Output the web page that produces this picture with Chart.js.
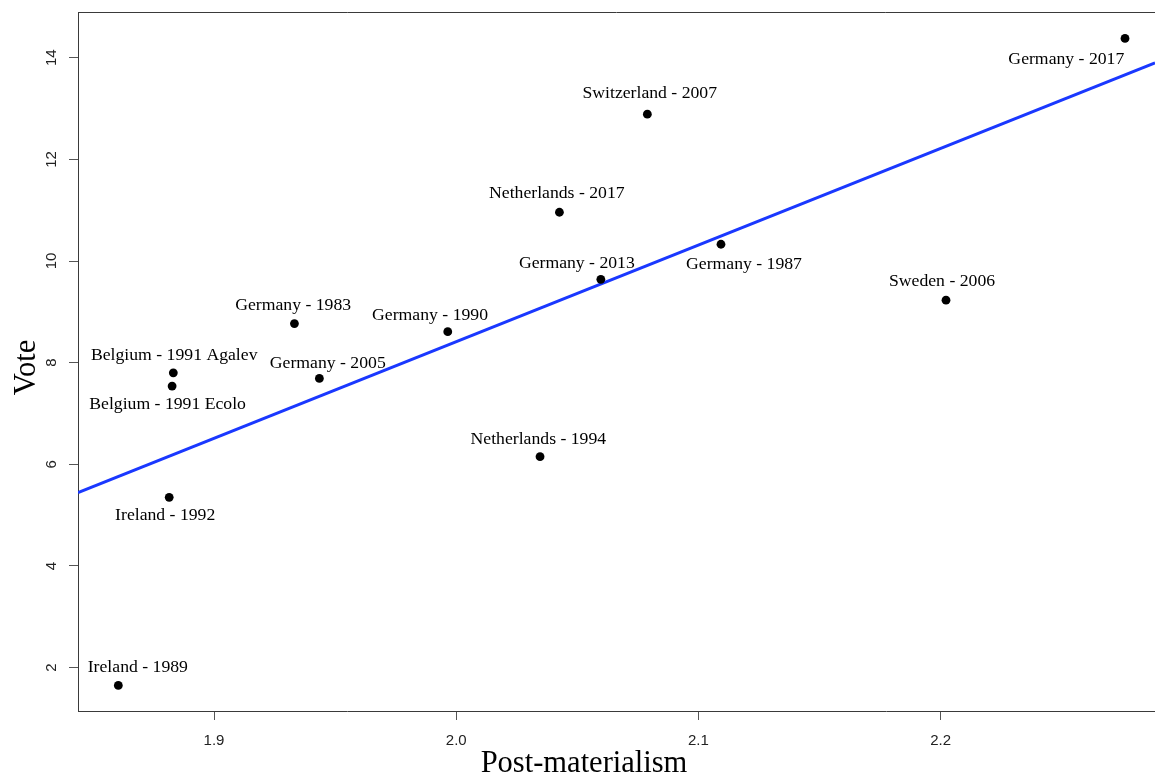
<!DOCTYPE html>
<html>
<head>
<meta charset="utf-8">
<script src="https://cdn.jsdelivr.net/npm/chart.js@4"></script>
<style>
  html, body { margin: 0; padding: 0; background: #fff; }
  canvas { display: block; }
</style>
</head>
<body>
<canvas id="voteChart" width="1155" height="776"></canvas>
<script>
// election labels, in drawing order
const electionNames = [
  'Germany - 2017', 'Switzerland - 2007', 'Netherlands - 2017', 'Germany - 2013',
  'Germany - 1987', 'Sweden - 2006', 'Germany - 1990', 'Germany - 1983',
  'Germany - 2005', 'Belgium - 1991 Agalev', 'Belgium - 1991 Ecolo',
  'Netherlands - 1994', 'Ireland - 1992', 'Ireland - 1989'
];
const postMaterialism = [2.2761, 2.0789, 2.0426, 2.0597, 2.1093, 2.2022, 1.9965,
  1.9332, 1.9435, 1.8832, 1.8827, 2.0346, 1.8815, 1.8605];
const voteShare = [14.38, 12.89, 10.96, 9.64, 10.33, 9.23, 8.61,
  8.77, 7.69, 7.80, 7.54, 6.15, 5.35, 1.65];

// fitted line, read at the two edges of the plot
const fitX = [1.84385, 2.28848];
const fitY = [5.445, 13.90];

const xTicks = [1.9, 2.0, 2.1, 2.2];
const yTicks = [2, 4, 6, 8, 10, 12, 14];

// where each label sits relative to its point (px, text centre)
const labelOffsets = [
  [-58.7, 19], [2.4, -22.3], [-2.6, -20], [-24, -17.3], [23, 18.3], [-4, -20],
  [-17.7, -17.7], [-1.3, -19.3], [8.4, -16.6], [0.9, -18.7], [-4.5, 16.7],
  [-1.7, -18.4], [-4, 17], [19.5, -20]
];

const serif = '"Liberation Serif", "Times New Roman", serif';
const sans = '"Liberation Sans", Arial, sans-serif';
const frameColor = '#3a3a3a';

// text labels, rotated y tick labels, axis titles and the top frame line
const decorPlugin = {
  id: 'decor',
  afterDatasetsDraw(chart) {
    const ctx = chart.ctx;
    const area = chart.chartArea;
    const xs = chart.scales.x;
    const ys = chart.scales.y;
    ctx.save();

    // top frame line
    ctx.strokeStyle = frameColor;
    ctx.lineWidth = 1;
    ctx.beginPath();
    ctx.moveTo(area.left, area.top + 0.5);
    ctx.lineTo(area.right, area.top + 0.5);
    ctx.stroke();

    // point labels (middle baseline sits a little high for serif text)
    ctx.fillStyle = '#000';
    ctx.font = '17.7px ' + serif;
    ctx.textAlign = 'center';
    ctx.textBaseline = 'middle';
    electionNames.forEach((name, i) => {
      const px = xs.getPixelForValue(postMaterialism[i]);
      const py = ys.getPixelForValue(voteShare[i]);
      ctx.fillText(name, px + labelOffsets[i][0], py + labelOffsets[i][1] + 1.5);
    });

    // y tick labels, reading upward like base R
    ctx.font = '15px ' + sans;
    ctx.fillStyle = '#222';
    ctx.textBaseline = 'alphabetic';
    ys.ticks.forEach(t => {
      const py = ys.getPixelForValue(t.value);
      ctx.save();
      ctx.translate(area.left - 22, py);
      ctx.rotate(-Math.PI / 2);
      ctx.fillText(String(t.value), 0, 0);
      ctx.restore();
    });

    // axis titles
    ctx.fillStyle = '#000';
    ctx.font = '30.5px ' + serif;
    ctx.fillText('Post-materialism', 584, 771.5);
    ctx.save();
    ctx.translate(35, 367.5);
    ctx.rotate(-Math.PI / 2);
    ctx.fillText('Vote', 0, 0);
    ctx.restore();

    ctx.restore();
  }
};

const ctx = document.getElementById('voteChart');
new Chart(ctx, {
  type: 'scatter',
  data: {
    datasets: [{
      label: 'Elections',
      data: postMaterialism.map((x, i) => ({ x: x, y: voteShare[i] })),
      backgroundColor: '#000',
      borderColor: '#000',
      pointRadius: 4.4,
      pointBorderWidth: 0
    }, {
      label: 'Fit',
      type: 'line',
      data: fitX.map((x, i) => ({ x: x, y: fitY[i] })),
      borderColor: '#1a38ff',
      borderWidth: 3,
      pointRadius: 0,
      fill: false,
      tension: 0
    }]
  },
  options: {
    responsive: false,
    animation: false,
    devicePixelRatio: 1,
    layout: { autoPadding: false, padding: { top: 12, left: 0, right: 0, bottom: 0 } },
    plugins: {
      legend: { display: false },
      tooltip: { enabled: false }
    },
    scales: {
      x: {
        type: 'linear',
        min: 1.84385,
        max: 2.28848,
        afterBuildTicks: scale => { scale.ticks = xTicks.map(v => ({ value: v })); },
        afterFit: scale => {
          scale.height = 65;
          scale.paddingLeft = 0;
          scale.paddingRight = 0;
        },
        grid: {
          drawOnChartArea: false,
          drawTicks: true,
          tickLength: 9,
          tickColor: '#555'
        },
        border: { display: true, color: frameColor, width: 1 },
        ticks: {
          padding: 12,
          color: '#222',
          font: { family: sans, size: 15 },
          callback: v => Number(v).toFixed(1)
        }
      },
      y: {
        type: 'linear',
        min: 1.146,
        max: 14.9,
        afterBuildTicks: scale => { scale.ticks = yTicks.map(v => ({ value: v })); },
        afterFit: scale => {
          scale.width = 78;
          scale.paddingTop = 0;
          scale.paddingBottom = 0;
        },
        grid: {
          drawOnChartArea: false,
          drawTicks: true,
          tickLength: 9,
          tickColor: '#555'
        },
        border: { display: true, color: frameColor, width: 1 },
        ticks: { display: false }
      }
    }
  },
  plugins: [decorPlugin]
});
</script>
</body>
</html>
